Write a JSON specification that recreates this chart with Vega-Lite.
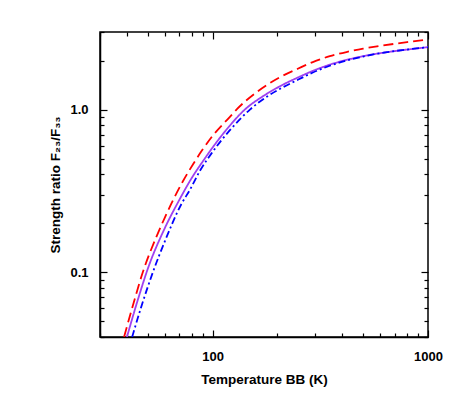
{
  "$schema": "https://vega.github.io/schema/vega-lite/v6.json",
  "width": 328,
  "height": 305,
  "autosize": {"type": "none"},
  "padding": {"left": 100, "top": 32, "right": 30, "bottom": 64},
  "background": "white",
  "config": {
    "view": {"stroke": "black", "strokeWidth": 1.5},
    "font": "Liberation Sans",
    "axis": {
      "domainColor": "black", "domainWidth": 1.5, "tickColor": "black", "tickWidth": 1.2,
      "labelFont": "Liberation Sans", "labelFontWeight": "bold", "labelFontSize": 13, "labelColor": "black",
      "titleFont": "Liberation Sans", "titleFontWeight": "bold", "titleFontSize": 13.5, "titleColor": "black",
      "grid": false
    }
  },
  "data": {"values": [
    {"s": "dashed", "T": 38.8, "v": 0.04},
    {"s": "dashed", "T": 43, "v": 0.065},
    {"s": "dashed", "T": 47.4, "v": 0.1},
    {"s": "dashed", "T": 55, "v": 0.167},
    {"s": "dashed", "T": 60, "v": 0.217},
    {"s": "dashed", "T": 66, "v": 0.283},
    {"s": "dashed", "T": 73, "v": 0.365},
    {"s": "dashed", "T": 81, "v": 0.46},
    {"s": "dashed", "T": 90, "v": 0.57},
    {"s": "dashed", "T": 100, "v": 0.69},
    {"s": "dashed", "T": 120, "v": 0.9},
    {"s": "dashed", "T": 130, "v": 1.01},
    {"s": "dashed", "T": 160, "v": 1.28},
    {"s": "dashed", "T": 205, "v": 1.58},
    {"s": "dashed", "T": 250, "v": 1.79},
    {"s": "dashed", "T": 292, "v": 1.96},
    {"s": "dashed", "T": 350, "v": 2.13},
    {"s": "dashed", "T": 418, "v": 2.26},
    {"s": "dashed", "T": 500, "v": 2.37},
    {"s": "dashed", "T": 596, "v": 2.46},
    {"s": "dashed", "T": 800, "v": 2.6},
    {"s": "dashed", "T": 1000, "v": 2.7},
    {"s": "solid", "T": 40, "v": 0.04},
    {"s": "solid", "T": 45, "v": 0.068},
    {"s": "solid", "T": 50, "v": 0.105},
    {"s": "solid", "T": 60, "v": 0.187},
    {"s": "solid", "T": 70, "v": 0.278},
    {"s": "solid", "T": 80, "v": 0.38},
    {"s": "solid", "T": 90, "v": 0.48},
    {"s": "solid", "T": 100, "v": 0.585},
    {"s": "solid", "T": 120, "v": 0.795},
    {"s": "solid", "T": 141, "v": 1.0},
    {"s": "solid", "T": 170, "v": 1.2},
    {"s": "solid", "T": 205, "v": 1.39},
    {"s": "solid", "T": 250, "v": 1.58},
    {"s": "solid", "T": 292, "v": 1.73},
    {"s": "solid", "T": 350, "v": 1.89},
    {"s": "solid", "T": 418, "v": 2.02},
    {"s": "solid", "T": 500, "v": 2.13},
    {"s": "solid", "T": 596, "v": 2.22},
    {"s": "solid", "T": 800, "v": 2.34},
    {"s": "solid", "T": 1000, "v": 2.42},
    {"s": "dashdot", "T": 42.3, "v": 0.04},
    {"s": "dashdot", "T": 47, "v": 0.0634},
    {"s": "dashdot", "T": 52.8, "v": 0.1},
    {"s": "dashdot", "T": 60, "v": 0.155},
    {"s": "dashdot", "T": 72, "v": 0.266},
    {"s": "dashdot", "T": 78.4, "v": 0.321},
    {"s": "dashdot", "T": 87, "v": 0.417},
    {"s": "dashdot", "T": 100, "v": 0.55},
    {"s": "dashdot", "T": 120, "v": 0.745},
    {"s": "dashdot", "T": 149, "v": 1.0},
    {"s": "dashdot", "T": 180, "v": 1.21},
    {"s": "dashdot", "T": 205, "v": 1.34},
    {"s": "dashdot", "T": 250, "v": 1.53},
    {"s": "dashdot", "T": 292, "v": 1.69},
    {"s": "dashdot", "T": 350, "v": 1.86},
    {"s": "dashdot", "T": 418, "v": 2.0},
    {"s": "dashdot", "T": 500, "v": 2.12},
    {"s": "dashdot", "T": 596, "v": 2.22},
    {"s": "dashdot", "T": 800, "v": 2.34},
    {"s": "dashdot", "T": 1000, "v": 2.42}
  ]},
  "resolve": {"axis": {"x": "independent", "y": "independent"}},
  "layer": [
    {
      "mark": {"type": "line", "strokeWidth": 1.8, "interpolate": "monotone", "clip": true},
      "encoding": {
        "x": {"field": "T", "type": "quantitative",
          "scale": {"type": "log", "domain": [30, 1000], "nice": false},
          "axis": {"orient": "bottom", "title": "Temperature BB (K)",
            "values": [30,40,50,60,70,80,90,100,200,300,400,500,600,700,800,900,1000],
            "labelExpr": "datum.value == 100 ? '100' : datum.value == 1000 ? '1000' : ''",
            "tickSize": {"condition": {"test": "datum.value == 100 || datum.value == 1000", "value": -7}, "value": -4},
            "labelPadding": 20, "titlePadding": 6, "labelFlush": false, "labelOverlap": false}},
        "y": {"field": "v", "type": "quantitative",
          "scale": {"type": "log", "domain": [0.04, 3], "nice": false},
          "axis": {"orient": "left", "title": "Strength ratio F₂₃/F₃₃",
            "values": [0.04,0.05,0.06,0.07,0.08,0.09,0.1,0.2,0.3,0.4,0.5,0.6,0.7,0.8,0.9,1,2,3],
            "labelExpr": "datum.value == 0.1 ? '0.1' : datum.value == 1 ? '1.0' : ''",
            "tickSize": {"condition": {"test": "datum.value == 0.1 || datum.value == 1", "value": -7}, "value": -4},
            "labelPadding": 19, "titlePadding": 7, "labelFlush": false, "labelOverlap": false}},
        "color": {"field": "s", "type": "nominal", "legend": null,
          "scale": {"domain": ["dashed", "solid", "dashdot"], "range": ["#ff0000", "#a040f0", "#0000ff"]}},
        "strokeDash": {"field": "s", "type": "nominal", "legend": null,
          "scale": {"domain": ["dashed", "solid", "dashdot"], "range": [[10, 5], [1, 0], [7, 3, 2, 3]]}},
        "order": {"field": "T", "type": "quantitative"}
      }
    },
    {
      "mark": {"type": "line", "strokeOpacity": 0, "clip": true},
      "encoding": {
        "x": {"field": "T", "type": "quantitative",
          "scale": {"type": "log", "domain": [30, 1000], "nice": false},
          "axis": {"orient": "top", "title": null, "labels": false, "domain": false,
            "values": [30,40,50,60,70,80,90,100,200,300,400,500,600,700,800,900,1000],
            "tickSize": {"condition": {"test": "datum.value == 100 || datum.value == 1000", "value": -7}, "value": -4}}},
        "y": {"field": "v", "type": "quantitative",
          "scale": {"type": "log", "domain": [0.04, 3], "nice": false},
          "axis": {"orient": "right", "title": null, "labels": false, "domain": false,
            "values": [0.04,0.05,0.06,0.07,0.08,0.09,0.1,0.2,0.3,0.4,0.5,0.6,0.7,0.8,0.9,1,2,3],
            "tickSize": {"condition": {"test": "datum.value == 0.1 || datum.value == 1", "value": -7}, "value": -4}}},
        "detail": {"field": "s", "type": "nominal"},
        "order": {"field": "T", "type": "quantitative"}
      }
    }
  ]
}
